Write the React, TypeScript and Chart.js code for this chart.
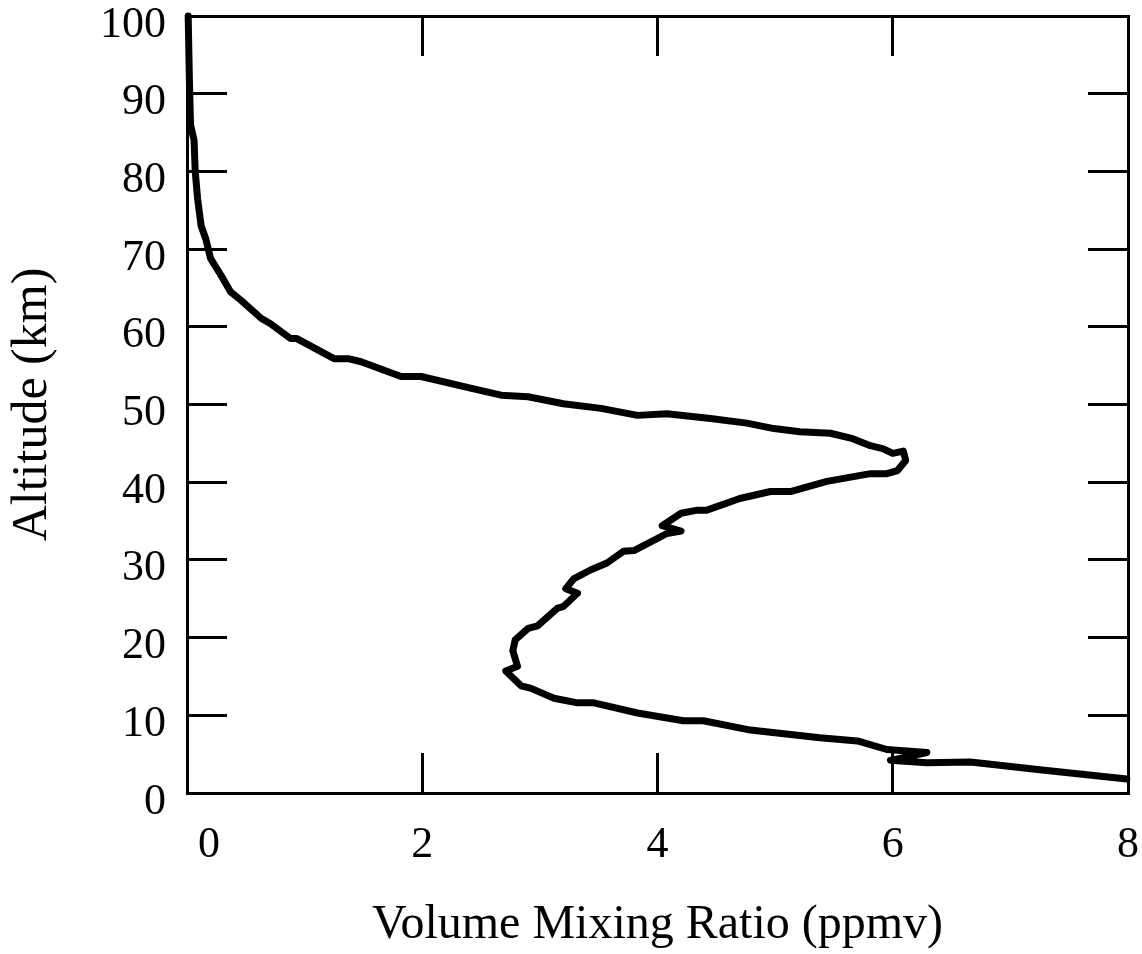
import React, { useEffect, useRef } from "react";
import { Chart, registerables } from "chart.js";

Chart.register(...registerables);

// Volume mixing ratio profile (ppmv) vs altitude (km)
const vmrPpmv = [
  0.01, 0.02, 0.03, 0.06, 0.07, 0.09, 0.12, 0.16, 0.2, 0.29, 0.37, 0.46, 0.63, 0.71, 0.88,
  0.93, 1.25, 1.37, 1.48, 1.82, 1.99, 2.41, 2.67, 2.9, 3.2, 3.52, 3.83, 4.08, 4.45, 4.76,
  4.99, 5.21, 5.47, 5.66, 5.81, 5.92, 6.0, 6.09, 6.11, 6.04, 5.95, 5.81, 5.44, 5.13, 4.96,
  4.7, 4.42, 4.34, 4.2, 4.04, 4.2, 4.08, 3.8, 3.71, 3.57, 3.43, 3.29, 3.22, 3.32, 3.2,
  3.15, 2.98, 2.9, 2.79, 2.77, 2.81, 2.71, 2.84, 2.92, 3.12, 3.32, 3.46, 3.83, 4.22, 4.39,
  4.79, 5.38, 5.7, 5.95, 6.29, 5.98, 6.29, 6.66, 7.25, 7.99,
];
const altitudeKm = [
  100, 92, 86, 84, 80, 76.5, 73.0, 71.3, 68.8, 66.6, 64.5, 63.4, 61.1, 60.4, 58.5,
  58.5, 55.9, 55.9, 55.5, 53.6, 53.6, 52.1, 51.2, 51.0, 50.1, 49.5, 48.6, 48.8, 48.2, 47.6,
  46.9, 46.5, 46.3, 45.6, 44.7, 44.3, 43.7, 44.0, 42.8, 41.5, 41.1, 41.1, 40.1, 38.8, 38.8,
  37.9, 36.4, 36.4, 36.0, 34.4, 33.7, 33.4, 31.2, 31.1, 29.6, 28.7, 27.6, 26.3, 25.7, 24.0,
  23.8, 21.5, 21.2, 19.7, 18.3, 16.3, 15.7, 13.8, 13.5, 12.2, 11.6, 11.6, 10.3, 9.3, 9.3,
  8.1, 7.1, 6.7, 5.6, 5.2, 4.2, 3.9, 4.0, 3.0, 1.8,
];

const xTickValues = [0, 2, 4, 6, 8];
const yTickValues = [0, 10, 20, 30, 40, 50, 60, 70, 80, 90, 100];

const xTitle = "Volume Mixing Ratio (ppmv)";
const yTitle = "Altitude (km)";

const FONT = "'Liberation Serif', 'Times New Roman', serif";

function noEndPadding(s: any) {
  s.paddingLeft = 0;
  s.paddingRight = 0;
  s.paddingTop = 0;
  s.paddingBottom = 0;
}

export default function App() {
  const canvasRef = useRef<HTMLCanvasElement | null>(null);

  useEffect(() => {
    const canvas = canvasRef.current;
    if (!canvas) return;

    const points = vmrPpmv.map((v, i) => ({ x: v, y: altitudeKm[i] }));
    const tickFont = { family: FONT, size: 44 };
    const border = { display: true, color: "#000", width: 3 };
    const gridInward = {
      drawOnChartArea: false,
      drawTicks: true,
      tickLength: -40,
      color: "#000",
      lineWidth: 3,
      tickWidth: 3,
    };

    const chart = new Chart(canvas, {
      type: "scatter",
      data: {
        datasets: [
          {
            data: points,
            showLine: true,
            borderColor: "#000",
            backgroundColor: "#000",
            borderWidth: 7,
            pointRadius: 0,
            tension: 0,
            borderJoinStyle: "round",
            borderCapStyle: "round",
            clip: false,
          } as any,
        ],
      },
      options: {
        animation: false,
        responsive: false,
        devicePixelRatio: 1,
        layout: { padding: 0 },
        plugins: {
          legend: { display: false },
          tooltip: { enabled: false },
        },
        scales: {
          x: {
            type: "linear",
            position: "bottom",
            min: xTickValues[0],
            max: xTickValues[xTickValues.length - 1],
            afterBuildTicks: (s: any) => {
              s.ticks = xTickValues.map((v) => ({ value: v }));
            },
            afterFit: (s: any) => {
              s.height = 161;
              noEndPadding(s);
            },
            ticks: {
              autoSkip: false,
              maxRotation: 0,
              color: "#000",
              font: tickFont,
              padding: 66,
              callback: (v: any) => (Number(v) === 0 ? "    0" : String(v)),
            },
            grid: gridInward,
            border,
            title: {
              display: true,
              text: xTitle,
              color: "#000",
              font: { family: FONT, size: 48 },
              padding: { top: 0, bottom: 0 },
            },
          },
          x2: {
            type: "linear",
            position: "top",
            min: xTickValues[0],
            max: xTickValues[xTickValues.length - 1],
            afterBuildTicks: (s: any) => {
              s.ticks = xTickValues.map((v) => ({ value: v }));
            },
            afterFit: (s: any) => {
              s.height = 16;
              noEndPadding(s);
            },
            ticks: { display: false, autoSkip: false },
            grid: gridInward,
            border,
          },
          y: {
            type: "linear",
            position: "left",
            min: yTickValues[0],
            max: yTickValues[yTickValues.length - 1],
            afterBuildTicks: (s: any) => {
              s.ticks = yTickValues.map((v) => ({ value: v }));
            },
            afterFit: (s: any) => {
              s.width = 187;
              noEndPadding(s);
            },
            ticks: {
              autoSkip: false,
              color: "#000",
              font: tickFont,
              padding: 61,
              labelOffset: 9,
            },
            grid: gridInward,
            border,
            title: {
              display: true,
              text: yTitle,
              color: "#000",
              font: { family: FONT, size: 50 },
              padding: { top: 3, bottom: 0 },
            },
          },
          y2: {
            type: "linear",
            position: "right",
            min: yTickValues[0],
            max: yTickValues[yTickValues.length - 1],
            afterBuildTicks: (s: any) => {
              s.ticks = yTickValues.map((v) => ({ value: v }));
            },
            afterFit: (s: any) => {
              s.width = 14;
              noEndPadding(s);
            },
            ticks: { display: false, autoSkip: false },
            grid: gridInward,
            border,
          },
        },
      } as any,
    });

    return () => {
      chart.destroy();
    };
  }, []);

  return (
    <div style={{ position: "absolute", left: 0, top: 0, width: 1142, height: 954, background: "#fff" }}>
      <canvas ref={canvasRef} width={1142} height={954} style={{ display: "block" }} />
    </div>
  );
}
